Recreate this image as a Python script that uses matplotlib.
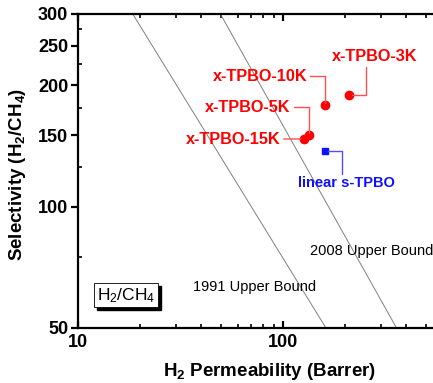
import matplotlib
matplotlib.use("Agg")
import matplotlib.pyplot as plt
from matplotlib.ticker import FixedLocator, NullFormatter
from matplotlib.transforms import offset_copy

plt.rcParams["font.family"] = ["Liberation Sans", "DejaVu Sans"]
plt.rcParams["mathtext.default"] = "regular"

# Data (H2 permeability in Barrer, H2/CH4 selectivity)
labels = ["x-TPBO-3K", "x-TPBO-10K", "x-TPBO-5K", "x-TPBO-15K"]
perm = [210, 160, 134, 126]
sel = [189, 178, 150, 147]

linear_label = "linear s-TPBO"
linear_perm = [161]
linear_sel = [137]

# Robeson upper bounds, end points
ub1991_perm = [18.5, 162]
ub1991_sel = [300, 50]
ub2008_perm = [49.5, 358]
ub2008_sel = [300, 50]

y_major = [50, 100, 150, 200, 250, 300]
y_minor = [75, 125, 175, 225, 275]
x_major = [10, 100, 1000]
x_minor = [20, 30, 40, 50, 60, 70, 80, 90, 200, 300, 400, 500, 600, 700, 800, 900]

red = "#ff0000"
blue = "#1010ff"

fig = plt.figure(figsize=(4.33, 3.83), dpi=100)
ax = fig.add_axes([78 / 433, 55 / 383, 410 / 433, 314 / 383])
ax.set_xscale("log")
ax.set_yscale("log")
ax.set_xlim(10, 1000)
ax.set_ylim(50, 300)

# Upper bound lines
ax.plot(ub1991_perm, ub1991_sel, color="#808080", lw=0.7)
ax.plot(ub2008_perm, ub2008_sel, color="#808080", lw=0.7)
ax.text(36.5, 63.3, "1991 Upper Bound", fontsize=10.5, va="center")
ax.text(135.5, 77.6, "2008 Upper Bound", fontsize=10.5, va="center")

# Points
ax.plot(perm, sel, "o", color=red, ms=6, zorder=3)
ax.plot(linear_perm, linear_sel, "s", color=blue, ms=5, zorder=3)

# Labels with leader lines (offsets in points)
offsets = [(18.7, 27.4), (-46.8, 20.9), (-43.9, 20.2), (-50.4, 0)]
styles = [
    ((0.39, 0), "angle,angleA=90,angleB=0,rad=0"),
    ((1, 0.5), "angle,angleA=0,angleB=90,rad=0"),
    ((1, 0.5), "angle,angleA=0,angleB=90,rad=0"),
    ((1, 0.5), "arc3"),
]
for lab, px, sy, off, (rel, cs) in zip(labels, perm, sel, offsets, styles):
    ax.annotate(lab, (px, sy), xytext=off, textcoords="offset points",
                ha="center", va="center", color=red, fontsize=11.7, fontweight="bold",
                arrowprops=dict(arrowstyle="-", color="#ff5050", lw=1.0,
                                relpos=rel, shrinkA=0, shrinkB=2,
                                connectionstyle=cs))

ax.annotate(linear_label, (linear_perm[0], linear_sel[0]), xytext=(15.1, -23),
            textcoords="offset points", ha="center", va="center",
            color=blue, fontsize=10.5, fontweight="bold",
            arrowprops=dict(arrowstyle="-", color="#5050ff", lw=1.0,
                            relpos=(0.455, 1), shrinkA=0, shrinkB=2,
                            connectionstyle="angle,angleA=90,angleB=0,rad=0"))

# Boxed gas pair label with shadow
shadow_tr = offset_copy(ax.transAxes, fig=fig, x=3, y=-3, units="dots")
ax.text(0.117, 0.104, "H$_2$/CH$_4$", transform=shadow_tr, fontsize=12.5,
        ha="center", va="center", color="black",
        bbox=dict(boxstyle="square,pad=0.15", fc="black", ec="black"))
ax.text(0.117, 0.104, "H$_2$/CH$_4$", transform=ax.transAxes, fontsize=12.5,
        ha="center", va="center", color="black",
        bbox=dict(boxstyle="square,pad=0.15", fc="white", ec="black", lw=0.6))

# Axes styling
for s in ax.spines.values():
    s.set_linewidth(1.6)

ax.xaxis.set_major_locator(FixedLocator(x_major))
ax.xaxis.set_minor_locator(FixedLocator(x_minor))
ax.xaxis.set_minor_formatter(NullFormatter())
ax.set_xticklabels([str(v) for v in x_major])
ax.yaxis.set_major_locator(FixedLocator(y_major))
ax.yaxis.set_minor_locator(FixedLocator(y_minor))
ax.yaxis.set_minor_formatter(NullFormatter())
ax.set_yticklabels([str(v) for v in y_major])

ax.tick_params(axis="x", which="both", direction="in", top=True, bottom=True,
               labelsize=13, pad=4)
ax.tick_params(axis="x", which="major", length=5, width=1.6)
ax.tick_params(axis="x", which="minor", length=3, width=1.2)
ax.tick_params(axis="y", which="major", direction="out", length=5, width=1.6,
               labelsize=13, pad=2)
ax.tick_params(axis="y", which="minor", direction="in", length=3, width=1.2)
for t in ax.get_xticklabels() + ax.get_yticklabels():
    t.set_fontweight("bold")

ax.set_xlabel("H$_2$ Permeability (Barrer)", fontsize=13.5, fontweight="bold")
ax.xaxis.set_label_coords(0.468, -0.105)
ax.set_ylabel("Selectivity (H$_2$/CH$_4$)", fontsize=13.5, fontweight="bold")
ax.yaxis.set_label_coords(-0.123, 0.49)

fig.savefig("out.png", dpi=100)
